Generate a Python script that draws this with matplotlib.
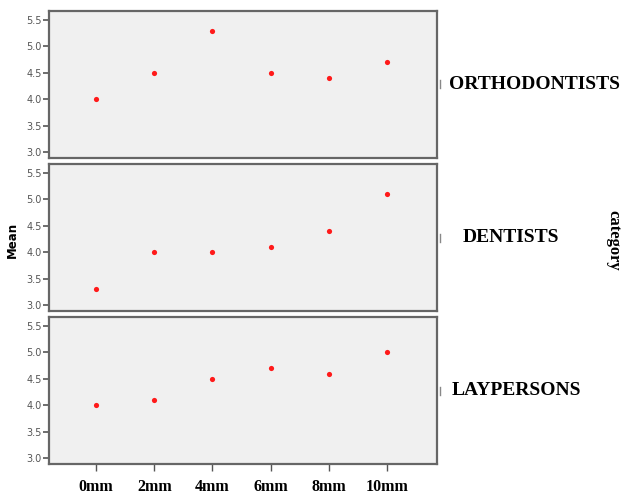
import matplotlib.pyplot as plt
import numpy as np

categories = ['0mm', '2mm', '4mm', '6mm', '8mm', '10mm']
groups = ['ORTHODONTISTS', 'DENTISTS', 'LAYPERSONS']
ortho = [4.0, 4.5, 5.3, 4.5, 4.4, 4.7]
dentists = [3.3, 4.0, 4.0, 4.1, 4.4, 5.1]
laypersons = [4.0, 4.1, 4.5, 4.7, 4.6, 5.0]
yticks = [3.0, 3.5, 4.0, 4.5, 5.0, 5.5]

series = [ortho, dentists, laypersons]
label_x = [449, 463, 452]  # left edge of the group labels, in pixels

fig = plt.figure(figsize=(6.22, 4.98), dpi=100)
W, H = 622, 498
left, right = 49, 437
tops = [11, 164, 317]
ph = 147

x = np.arange(len(categories))
for i, (vals, top) in enumerate(zip(series, tops)):
    ax = fig.add_axes([left / W, 1 - (top + ph) / H, (right - left) / W, ph / H])
    ax.set_facecolor('#f0f0f0')
    ax.scatter(x, vals, s=14, color='#ff1a1a', zorder=3, linewidths=0)
    ax.set_xlim(-0.81, 5.86)
    ax.set_ylim(2.89, 5.67)
    ax.set_yticks(yticks)
    ax.set_yticklabels([f'{v:.1f}' for v in yticks], color='#555555', fontsize=7)
    ax.tick_params(axis='y', length=4, width=1.2, color='#555555', pad=1)
    for s in ax.spines.values():
        s.set_color('#666666')
        s.set_linewidth(1.6)
    if i < 2:
        ax.set_xticks([])
    else:
        ax.set_xticks(x)
        ax.set_xticklabels(categories, fontsize=11.5, fontweight='bold',
                           family='Liberation Serif')
        ax.tick_params(axis='x', length=5, width=1, color='#555555', pad=6)
    # little mark on right side + group label
    ymid = top + ph / 2
    fig.add_artist(plt.Line2D([440 / W, 440 / W], [1 - (ymid - 4) / H, 1 - (ymid + 4) / H],
                              color='#888888', lw=1))
    fig.text(label_x[i] / W, 1 - ymid / H, groups[i], fontsize=14, fontweight='bold',
             family='Liberation Serif', va='center', ha='left')

fig.text(12 / W, 1 - 240 / H, 'Mean', rotation=90, fontsize=8.5, fontweight='bold',
         va='center', ha='center')
fig.text(613 / W, 1 - 240 / H, 'category', rotation=-90, fontsize=12, fontweight='bold',
         family='Liberation Serif', va='center', ha='center')

fig.savefig('out.png', dpi=100)
